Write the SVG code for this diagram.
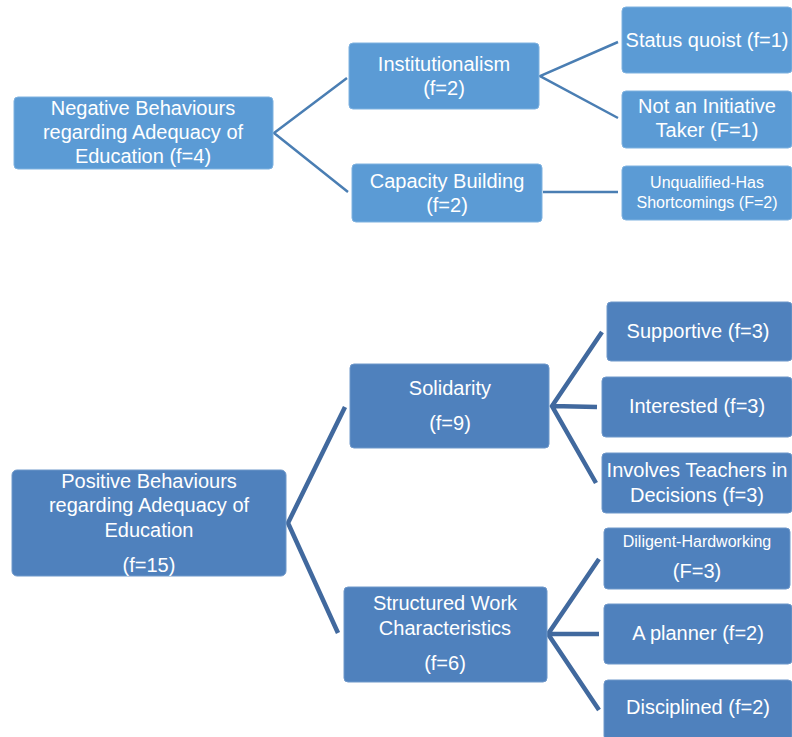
<svg xmlns="http://www.w3.org/2000/svg" width="792" height="737" viewBox="0 0 792 737">
<style>
.t{fill:#5B9BD5;stroke:#7FB2E0;stroke-width:1}
.b{fill:#4F81BD;stroke:#6F98CA;stroke-width:1}
text{font-family:"Liberation Sans",Arial,sans-serif;font-size:20px;fill:#ffffff;text-anchor:middle}
.s{font-size:16px}
.ct{stroke:#4A7EB3;stroke-width:2.5;fill:none}
.cb{stroke:#41699E;stroke-width:4.5;fill:none;stroke-linejoin:miter}
</style>
<rect width="792" height="737" fill="#ffffff"/>
<g id="connectors">
<path class="ct" d="M347,78 L274,133 L348,192"/>
<path class="ct" d="M618,42 L540,76 L618,118"/>
<path class="ct" d="M543,192 L618,192"/>
<path class="cb" d="M345,407 L288,523 L338,633"/>
<path class="cb" d="M602,332 L552,406 L596,483 M552,406 L597,407"/>
<path class="cb" d="M599,559 L548,634 L599,710 M548,634 L599,634"/>
</g>
<g id="n-neg"><rect class="t" x="14" y="97" width="259" height="72" rx="4"/>
<text x="143" y="115">Negative Behaviours</text><text x="143" y="139">regarding Adequacy of</text><text x="143" y="163">Education (f=4)</text></g>
<g id="n-inst"><rect class="t" x="349" y="43" width="190" height="66" rx="4"/>
<text x="444" y="71">Institutionalism</text><text x="444" y="95">(f=2)</text></g>
<g id="n-cap"><rect class="t" x="352" y="164" width="190" height="58" rx="4"/>
<text x="447" y="188">Capacity Building</text><text x="447" y="212">(f=2)</text></g>
<g id="n-status"><rect class="t" x="622" y="7" width="170" height="66" rx="4"/>
<text x="707" y="47">Status quoist (f=1)</text></g>
<g id="n-notinit"><rect class="t" x="622" y="91" width="170" height="57" rx="4"/>
<text x="707" y="113">Not an Initiative</text><text x="707" y="137">Taker (F=1)</text></g>
<g id="n-unq"><rect class="t" x="622" y="166" width="170" height="54" rx="4"/>
<text class="s" x="707" y="188">Unqualified-Has</text><text class="s" x="707" y="208">Shortcomings (F=2)</text></g>
<g id="n-pos"><rect class="b" x="12" y="470" width="274" height="106" rx="5"/>
<text x="149" y="488">Positive Behaviours</text><text x="149" y="512">regarding Adequacy of</text><text x="149" y="537">Education</text><text x="149" y="572">(f=15)</text></g>
<g id="n-sol"><rect class="b" x="350" y="364" width="199" height="84" rx="4"/>
<text x="450" y="395">Solidarity</text><text x="450" y="430">(f=9)</text></g>
<g id="n-sup"><rect class="b" x="607" y="302" width="185" height="59" rx="4"/>
<text x="698" y="338">Supportive (f=3)</text></g>
<g id="n-int"><rect class="b" x="602" y="377" width="190" height="60" rx="4"/>
<text x="697" y="413">Interested (f=3)</text></g>
<g id="n-inv"><rect class="b" x="602" y="453" width="190" height="60" rx="4"/>
<text x="697" y="477">Involves Teachers in</text><text x="697" y="502">Decisions (f=3)</text></g>
<g id="n-struct"><rect class="b" x="344" y="587" width="203" height="95" rx="4"/>
<text x="445" y="610">Structured Work</text><text x="445" y="635">Characteristics</text><text x="445" y="670">(f=6)</text></g>
<g id="n-dil"><rect class="b" x="604" y="528" width="186" height="61" rx="4"/>
<text class="s" x="697" y="547">Diligent-Hardworking</text><text x="697" y="578">(F=3)</text></g>
<g id="n-plan"><rect class="b" x="604" y="604" width="188" height="60" rx="4"/>
<text x="698" y="640">A planner (f=2)</text></g>
<g id="n-disc"><rect class="b" x="604" y="680" width="188" height="60" rx="4"/>
<text x="698" y="714">Disciplined (f=2)</text></g>
</svg>
